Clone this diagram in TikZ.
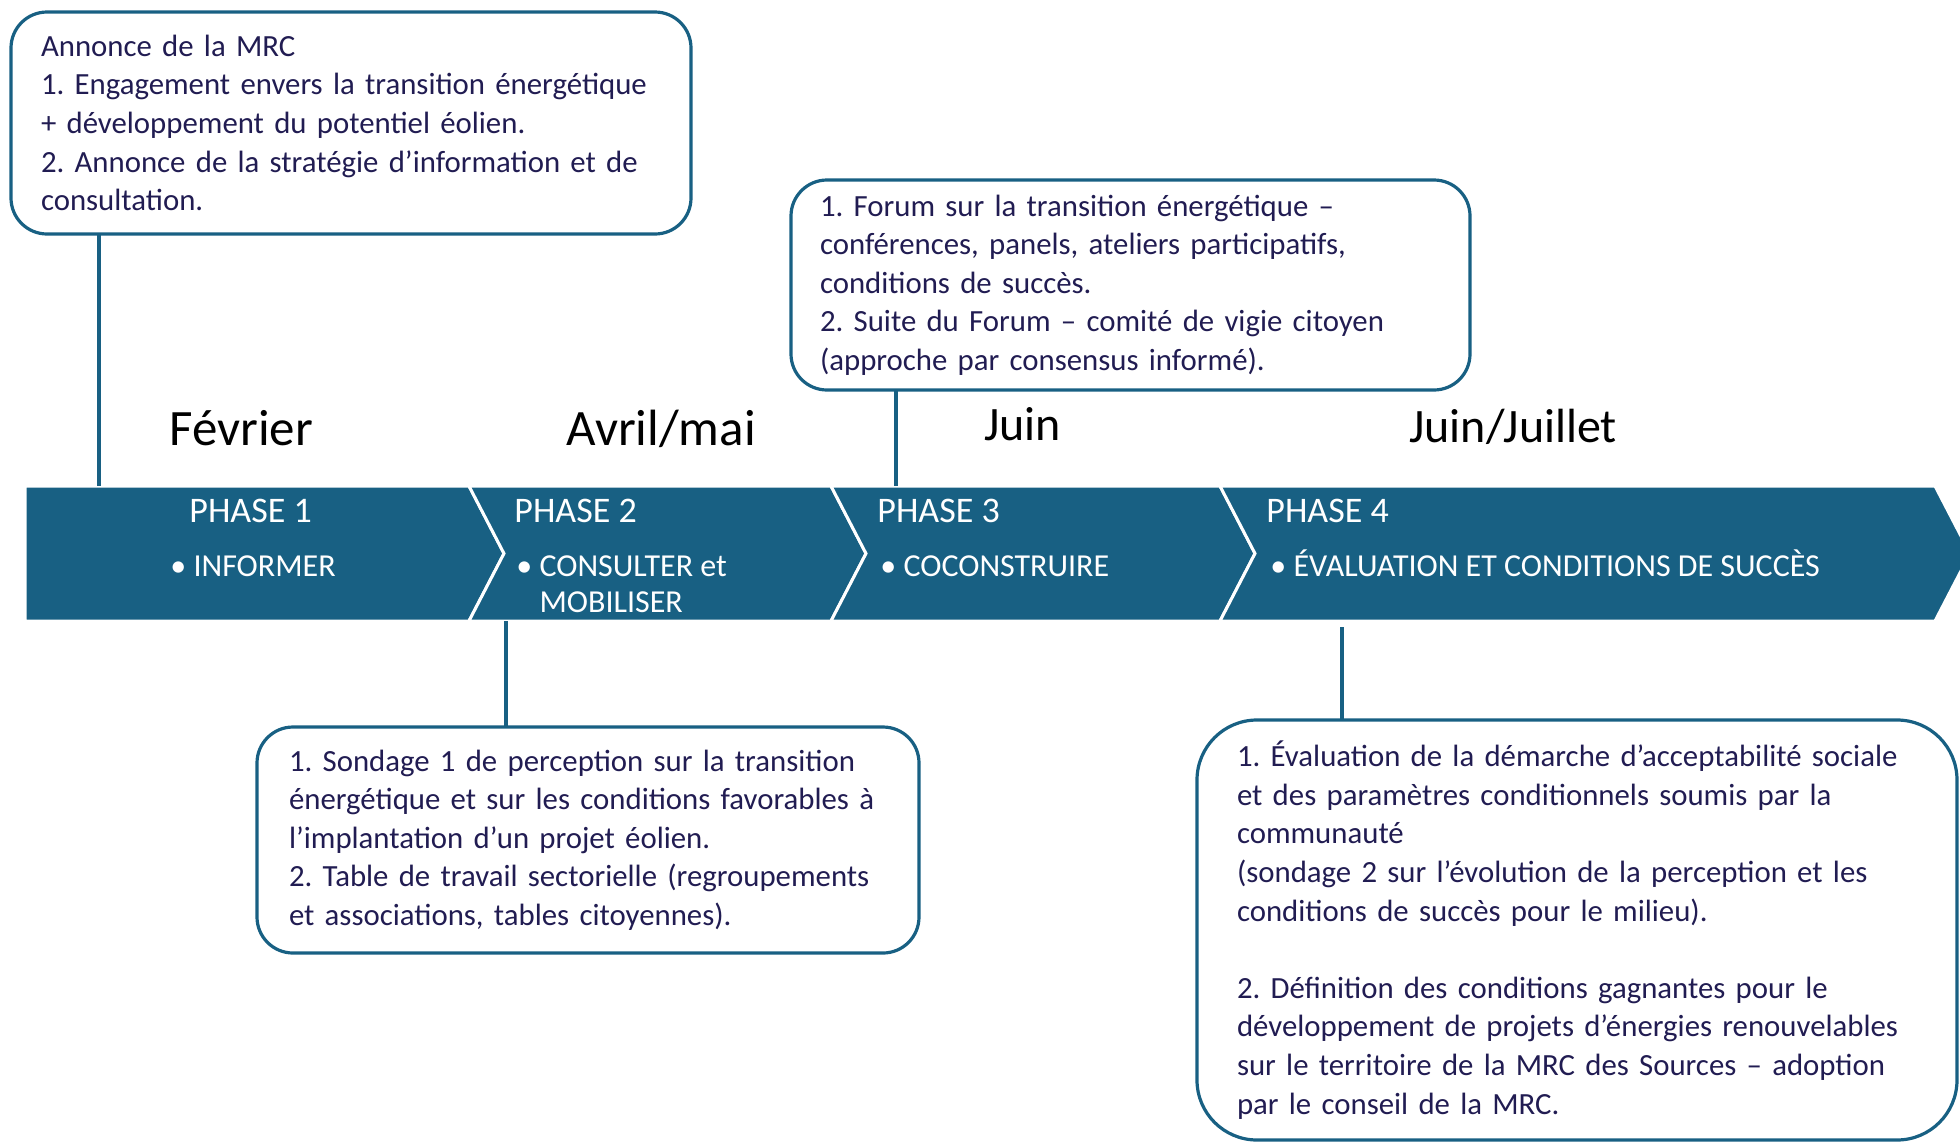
\documentclass[tikz,border=0pt]{standalone}
\usepackage{fontspec}
\setmainfont{Carlito}
\usetikzlibrary{positioning,calc}
\definecolor{bleu}{HTML}{186083}
\definecolor{encre}{HTML}{211C52}
\newcommand{\textecadre}{\fontsize{15.4}{19.3}\selectfont\frenchspacing\hyphenpenalty=10000\relax\exhyphenpenalty=10000\relax}

\begin{document}
\begin{tikzpicture}[x=0.5pt,y=-0.5pt]
		\tikzstyle{infobox}=[draw=bleu,line width=1.6pt,rounded corners=18pt,text=encre,align=left,anchor=north west,outer sep=0pt,font=\textecadre]
		\tikzstyle{mois}=[anchor=base west,inner sep=0pt,font=\fontsize{25.5}{30}\selectfont]
		\tikzstyle{phase}=[anchor=west,inner sep=0pt,text=white,font=\fontsize{18}{21}\selectfont]
		\tikzstyle{puce}=[anchor=base west,inner sep=0pt,text=white,align=left,font=\fontsize{16}{18}\selectfont]
		\tikzstyle{lien}=[draw=bleu,line width=2pt]
		\tikzstyle{segment}=[fill=bleu,draw=white,line width=1.5pt,line join=miter]

		\useasboundingbox (0,0) rectangle (1960,1142);

		% bandeau des phases
		\draw[segment] (25,486) -- (469,486) -- (504,553.5) -- (469,621) -- (25,621) -- cycle;
		\foreach \l/\r in {469/831,831/1220,1220/1935}
			\draw[segment] (\l,486) -- (\r,486) -- (\r+35,553.5) -- (\r,621) -- (\l,621) -- (\l+35,553.5) -- cycle;

		\coordinate (c1) at (99,486);
		\coordinate (c2) at (506,621);
		\coordinate (c3) at (896,486);
		\coordinate (c4) at (1342,627);

		\node[mois] (fevrier) at (169,445){Février};
		\node[mois] (avril) at (566,445){Avril/mai};
		\node[mois,font=\fontsize{24}{29}\selectfont] (juin) at (984,440){Juin};
		\node[mois,font=\fontsize{24}{29}\selectfont] (juillet) at (1409,442){Juin/Juillet};

		\node[phase] (p1) at (189,511){PHASE 1};
		\node[phase] (p2) at (514,511){PHASE 2};
		\node[phase] (p3) at (877,511){PHASE 3};
		\node[phase] (p4) at (1266,511){PHASE 4};

		\node[puce] (b1) at (170,576){• INFORMER};
		\node[puce] (b2) at (516,612){• CONSULTER et\\\phantom{• }MOBILISER};
		\node[puce] (b3) at (880,576){• COCONSTRUIRE};
		\node[puce] (b4) at (1270,576){• ÉVALUATION ET CONDITIONS DE SUCCÈS};

		\node[infobox,inner xsep=15pt,text width=310pt,minimum height=111pt] (annonce) at (11,12){Annonce de la MRC\\
			1. Engagement envers la transition énergétique\\
			+ développement du potentiel éolien.\\
			2. Annonce de la stratégie d’information et de\\
			consultation.};
		\node[infobox,inner xsep=14.5pt,text width=310.5pt,minimum height=105pt] (forum) at (791,180){1. Forum sur la transition énergétique –\\
			conférences, panels, ateliers participatifs,\\
			conditions de succès.\\
			2. Suite du Forum – comité de vigie citoyen\\
			(approche par consensus informé).};
		\node[infobox,inner xsep=16pt,text width=299pt,minimum height=113pt] (sondage) at (257,727){1. Sondage 1 de perception sur la transition\\
			énergétique et sur les conditions favorables à\\
			l’implantation d’un projet éolien.\\
			2. Table de travail sectorielle (regroupements\\
			et associations, tables citoyennes).};
		\node[infobox,rounded corners=30pt,inner xsep=20pt,text width=340pt,minimum height=210pt] (evaluation) at (1197,720){1. Évaluation de la démarche d’acceptabilité sociale\\
			et des paramètres conditionnels soumis par la\\
			communauté\\
			(sondage 2 sur l’évolution de la perception et les\\
			conditions de succès pour le milieu).\\[19.3pt]
			2. Définition des conditions gagnantes pour le\\
			développement de projets d’énergies renouvelables\\
			sur le territoire de la MRC des Sources – adoption\\
			par le conseil de la MRC.};

		\draw[lien] (annonce.south -| c1) -- (c1);
		\draw[lien] (forum.south -| c3) -- (c3);
		\draw[lien] (c2) -- (sondage.north -| c2);
		\draw[lien] (c4) -- (evaluation.north -| c4);
	\end{tikzpicture}
\end{document}
